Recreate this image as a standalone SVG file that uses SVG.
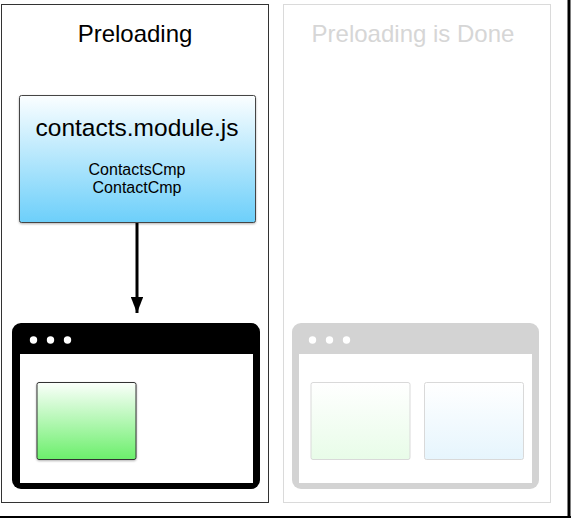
<svg xmlns="http://www.w3.org/2000/svg" width="571" height="518" viewBox="0 0 571 518">
<style>
text{font-family:"Liberation Sans",Arial,sans-serif;text-anchor:middle}
.title{font-size:24px}
.dim{fill:#d6d6d6}
.dot{fill:#fff}
</style>
<defs>
<linearGradient id="gBlue" x1="0" y1="0" x2="0" y2="1"><stop offset="0" stop-color="#fbfeff"/><stop offset="1" stop-color="#6ccffa"/></linearGradient>
<linearGradient id="gGreen" x1="0" y1="0" x2="0" y2="1"><stop offset="0" stop-color="#fbfffb"/><stop offset="1" stop-color="#6bef6b"/></linearGradient>
<linearGradient id="gGreenPale" x1="0" y1="0" x2="0" y2="1"><stop offset="0" stop-color="#ffffff"/><stop offset="1" stop-color="#e8fce8"/></linearGradient>
<linearGradient id="gBluePale" x1="0" y1="0" x2="0" y2="1"><stop offset="0" stop-color="#ffffff"/><stop offset="1" stop-color="#e6f5fd"/></linearGradient>
<marker id="arrow" markerWidth="5.4" markerHeight="4.2" refX="5.4" refY="2.1" orient="auto" markerUnits="strokeWidth"><path d="M0,0 L5.4,2.1 L0,4.2 Z" fill="#000"/></marker>
<filter id="sh" x="-10%" y="-10%" width="120%" height="130%"><feDropShadow dx="0" dy="1" stdDeviation="1" flood-color="#000" flood-opacity="0.3"/></filter>
</defs>
<rect width="571" height="518" fill="#fff"/>
<line x1="569" y1="0" x2="569" y2="518" stroke="#000" stroke-width="3"/>
<line x1="0" y1="517" x2="571" y2="517" stroke="#000" stroke-width="2"/>
<g id="panel-preloading">
<rect x="1.5" y="4.5" width="267" height="498" fill="#fff" stroke="#333" stroke-width="1"/>
<text class="title" x="135" y="42">Preloading</text>
</g>
<g id="panel-done">
<rect x="283.5" y="4.5" width="267" height="498" fill="#fff" stroke="#dadada" stroke-width="1"/>
<text class="title dim" x="413" y="42">Preloading is Done</text>
</g>
<g id="module">
<rect x="19.5" y="95.5" width="236" height="127" rx="2" fill="url(#gBlue)" stroke="#444" stroke-width="1" filter="url(#sh)"/>
<text x="137" y="136" font-size="24.5">contacts.module.js</text>
<text x="137" y="175" font-size="16">ContactsCmp</text>
<text x="137" y="193" font-size="16">ContactCmp</text>
</g>
<g id="browser-left">
<rect x="12" y="323" width="248" height="166" rx="9" fill="#000"/>
<rect x="20" y="354" width="233" height="129" fill="#fff"/>
<circle class="dot" cx="33.5" cy="340" r="3.7"/>
<circle class="dot" cx="50.5" cy="340" r="3.7"/>
<circle class="dot" cx="67.5" cy="340" r="3.7"/>
<rect x="37" y="382.5" width="99" height="77" rx="2" fill="url(#gGreen)" stroke="#333" stroke-width="1" filter="url(#sh)"/>
</g>
<g id="browser-right">
<rect x="292" y="323" width="247" height="166" rx="9" fill="#d3d3d3"/>
<rect x="299" y="354" width="233" height="129" fill="#fff"/>
<circle class="dot" cx="312.5" cy="340" r="3.7"/>
<circle class="dot" cx="329.5" cy="340" r="3.7"/>
<circle class="dot" cx="346.5" cy="340" r="3.7"/>
<rect x="311" y="382.5" width="99" height="77" rx="2" fill="url(#gGreenPale)" stroke="#d9d9d9" stroke-width="1"/>
<rect x="424.5" y="382.5" width="99" height="77" rx="2" fill="url(#gBluePale)" stroke="#d9d9d9" stroke-width="1"/>
</g>
<g id="connectors">
<line x1="137" y1="223" x2="137" y2="313" stroke="#000" stroke-width="3" marker-end="url(#arrow)"/>
</g>
</svg>
